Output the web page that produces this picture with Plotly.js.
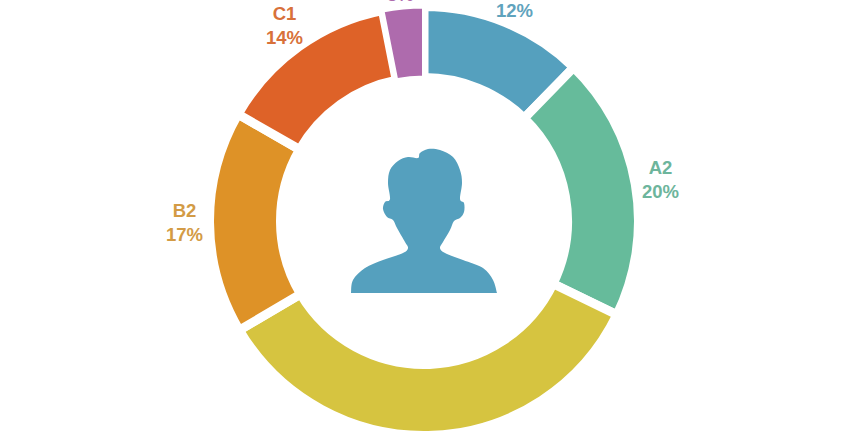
<!DOCTYPE html>
<html><head><meta charset="utf-8">
<script src="https://cdn.plot.ly/plotly-3.0.1.min.js"></script>
<style>html,body{margin:0;padding:0;background:#fff;overflow:hidden}#c{width:848px;height:442px}</style>
</head><body><div id="c"></div>
<script>
const categories = ["A1","A2","B1","B2","C1","C2"];
const shares = [12.3,19.9,34.3,16.8,13.6,3.1];
const sliceColors = ["#55A0BE","#66BB9B","#D6C440","#DE9227","#DE6228","#AE6BAD"];
const labelColors = ["#5FA3BD","#6DB59C","#D2C24F","#D39B45","#D8713A","#AE6BAD"];
const gapWidths = [9,9,9,9,9,4];
const iconColor = "#55A0BE";
const WIDTH = 848, HEIGHT = 442, LABEL_RADIUS = 240;
// head-and-shoulders outline, pixels relative to the ring centre (x right, y up)
const iconPts = [[-73,-72],[-71,-59],[-59,-47],[-41,-39],[-21,-32],[-16,-27],[-19,-21],[-27,-7],[-31,1],[-37,4],[-41,12],[-39,19],[-34,22],[-36,38],[-34,51],[-26,60],[-16,64],[-6,63],[-4,68],[4,72],[16,71],[29,64],[36,51],[38,38],[36,22],[40,18],[40,9],[36,3],[30,0],[26,-9],[19,-21],[16,-27],[21,-32],[39,-39],[59,-47],[69,-59],[73,-72]];
function smooth(p){
  let d="M"+p[0][0]+","+p[0][1];
  for(let i=0;i<p.length-1;i++){
    const a=p[Math.max(i-1,0)],b=p[i],c=p[i+1],e=p[Math.min(i+2,p.length-1)];
    d+=" C"+(b[0]+(c[0]-a[0])/6).toFixed(1)+","+(b[1]+(c[1]-a[1])/6).toFixed(1)+" "+(c[0]-(e[0]-b[0])/6).toFixed(1)+","+(c[1]-(e[1]-b[1])/6).toFixed(1)+" "+c[0]+","+c[1];
  }
  return d+" Z";
}
const total = shares.reduce((s,v)=>s+v,0);
let running = 0;
const labelAnnotations = categories.map((c,i)=>{
  const mid = (running + shares[i]/2)/total*2*Math.PI;
  running += shares[i];
  return {
    xref:"paper",yref:"paper",xanchor:"center",yanchor:"middle",showarrow:false,
    x:0.5+LABEL_RADIUS*Math.sin(mid)/WIDTH,
    y:0.5+LABEL_RADIUS*Math.cos(mid)/HEIGHT,
    text:"<b>"+c+"</b><br><b>"+Math.round(shares[i])+"%</b>",
    font:{family:"Liberation Sans",size:18.5,color:labelColors[i]}
  };
});
Plotly.newPlot("c",[{
  type:"pie",
  values:shares,labels:categories,
  textinfo:"none",
  sort:false,direction:"clockwise",rotation:0,hole:0.669,
  domain:{x:[0,1],y:[6.5/HEIGHT,1-6.5/HEIGHT]},
  marker:{colors:sliceColors,line:{color:"#fff",width:gapWidths}},
  showlegend:false
}],{
  width:WIDTH,height:HEIGHT,
  margin:{l:0,r:0,t:0,b:0},
  paper_bgcolor:"#fff",showlegend:false,
  annotations:labelAnnotations,
  shapes:[{type:"path",xref:"paper",yref:"paper",xsizemode:"pixel",ysizemode:"pixel",xanchor:0.5,yanchor:0.5,
    path:smooth(iconPts),fillcolor:iconColor,line:{width:0}}]
},{displayModeBar:false,staticPlot:true});
</script></body></html>
